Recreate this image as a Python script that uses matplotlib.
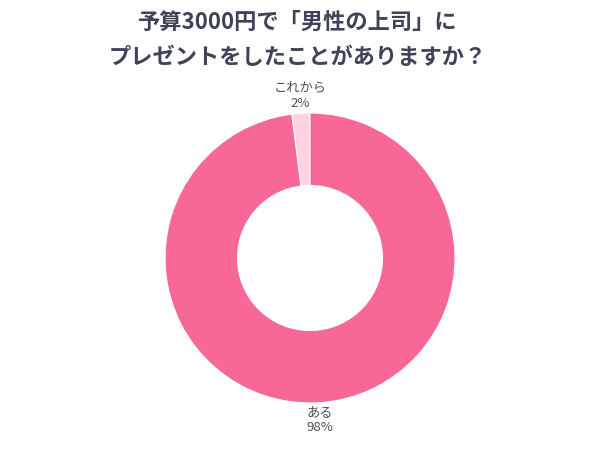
import matplotlib
matplotlib.use("Agg")
from matplotlib import pyplot as plt

plt.rcParams['font.family'] = ['Noto Sans CJK JP', 'DejaVu Sans']

title_lines = ["予算3000円で「男性の上司」に", "プレゼントをしたことがありますか？"]
categories = ["これから", "ある"]
values = [2, 98]
colors = ["#FFD3E1", "#F76895"]

labels = [f"{c}\n{v}%" for c, v in zip(categories, values)]

fig = plt.figure(figsize=(6.02, 4.51), dpi=100)
fig.text(0.495, 1 - 22 / 451, title_lines[0], ha='center', va='center',
         fontsize=16, fontweight='bold', color="#3E4356")
fig.text(0.495, 1 - 57 / 451, title_lines[1], ha='center', va='center',
         fontsize=16, fontweight='bold', color="#3E4356")

ax = fig.add_axes([(310 - 145) / 602, (451 - 258 - 145) / 451, 290 / 602, 290 / 451])
ax.pie(values, labels=labels, colors=colors, startangle=90, counterclock=True,
       labeldistance=1.12, radius=1.0,
       wedgeprops=dict(width=0.5, edgecolor='white', linewidth=0.8),
       textprops=dict(ha='center', va='center', fontsize=9.5, color="#4F4F4F",
                      linespacing=1.25))
ax.set_xlim(-1, 1)
ax.set_ylim(-1, 1)
ax.set_aspect('equal')
ax.axis('off')

fig.savefig("out.png", dpi=100)
